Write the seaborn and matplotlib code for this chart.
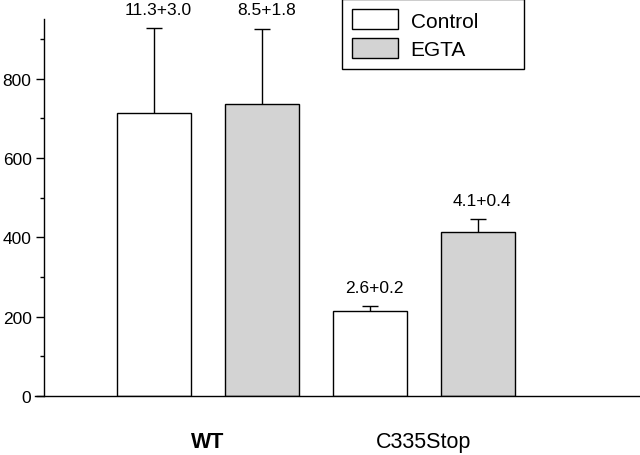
import pandas as pd
import seaborn as sns
import matplotlib.pyplot as plt
from matplotlib.ticker import MultipleLocator

# valores
groups = ['WT', 'WT', 'C335Stop', 'C335Stop']
conditions = ['Control', 'EGTA', 'Control', 'EGTA']
means = [714, 737, 214, 413]
errs = [214, 189, 12, 32]
notes = ['11.3+3.0', '8.5+1.8', '2.6+0.2', '4.1+0.4']

df = pd.DataFrame({'group': groups, 'condition': conditions, 'value': means})

sns.set_style('ticks')
plt.rcParams['font.family'] = ['Liberation Sans', 'DejaVu Sans']
plt.rcParams['text.color'] = 'black'
plt.rcParams['xtick.color'] = 'black'
plt.rcParams['ytick.color'] = 'black'
plt.rcParams['axes.edgecolor'] = 'black'

fig = plt.figure(figsize=(6.4, 4.56), dpi=100)
ax = fig.add_axes([44 / 640, 1 - 397 / 456, 1 - 44 / 640, (397 - 20) / 456])

sns.barplot(data=df, x='group', y='value', hue='condition', ax=ax,
            palette={'Control': 'white', 'EGTA': '#d3d3d3'},
            edgecolor='black', linewidth=1.0, width=1.0, gap=0.32,
            errorbar=None, legend=True)

# posição de cada barra (containers: um por condição, cada um com WT e C335Stop)
bx = [0.0] * 4
by = [0.0] * 4
for c, cont in zip(['Control', 'EGTA'], ax.containers):
    for g, bar in zip(['WT', 'C335Stop'], cont):
        i = [k for k in range(4) if groups[k] == g and conditions[k] == c][0]
        bx[i] = bar.get_x() + bar.get_width() / 2
        by[i] = bar.get_height()

# barras de erro só para cima
eb = ax.errorbar(bx, by, yerr=[[0] * 4, errs], fmt='none', ecolor='black',
                 elinewidth=1.0, capsize=5.5, capthick=1.0)
eb.lines[1][0].set_visible(False)  # tira o cap de baixo

for x, y, e, t in zip(bx, by, errs, notes):
    ax.annotate(t, (x, y + e), xytext=(3, 8), textcoords='offset points',
                ha='center', va='bottom', fontsize=12.5, annotation_clip=False)

ax.set_ylim(0, 950)
ax.set_xlim(-0.76, 2.0)
ax.yaxis.set_major_locator(MultipleLocator(200))
ax.yaxis.set_minor_locator(MultipleLocator(100))
ax.tick_params(axis='y', which='major', length=6, width=1, labelsize=12.5, pad=3)
ax.tick_params(axis='y', which='minor', length=3, width=1)
ax.tick_params(axis='x', length=0, pad=25, labelsize=15.5)
ax.get_xticklabels()[0].set_fontweight('bold')
ax.set_xlabel('')
ax.set_ylabel('')

for side in ['top', 'right']:
    ax.spines[side].set_visible(False)
ax.spines['left'].set_linewidth(1)
ax.spines['bottom'].set_linewidth(1)
ax.spines['bottom'].set_bounds(-0.80, 2.0)

handles, labels = ax.get_legend_handles_labels()
leg = ax.legend(handles, labels, loc='upper left', mode='expand',
                bbox_to_anchor=(342 / 640, 0.0, (524 - 342) / 640, 1.0),
                bbox_transform=fig.transFigure,
                borderaxespad=0, fontsize=15, frameon=True, fancybox=False,
                handlelength=2.2, handleheight=1.1, handletextpad=0.6,
                labelspacing=0.35, borderpad=0.5)
leg.get_frame().set_edgecolor('black')
leg.get_frame().set_linewidth(1.0)
leg.get_frame().set_alpha(1)

fig.savefig('out.png', dpi=100)
